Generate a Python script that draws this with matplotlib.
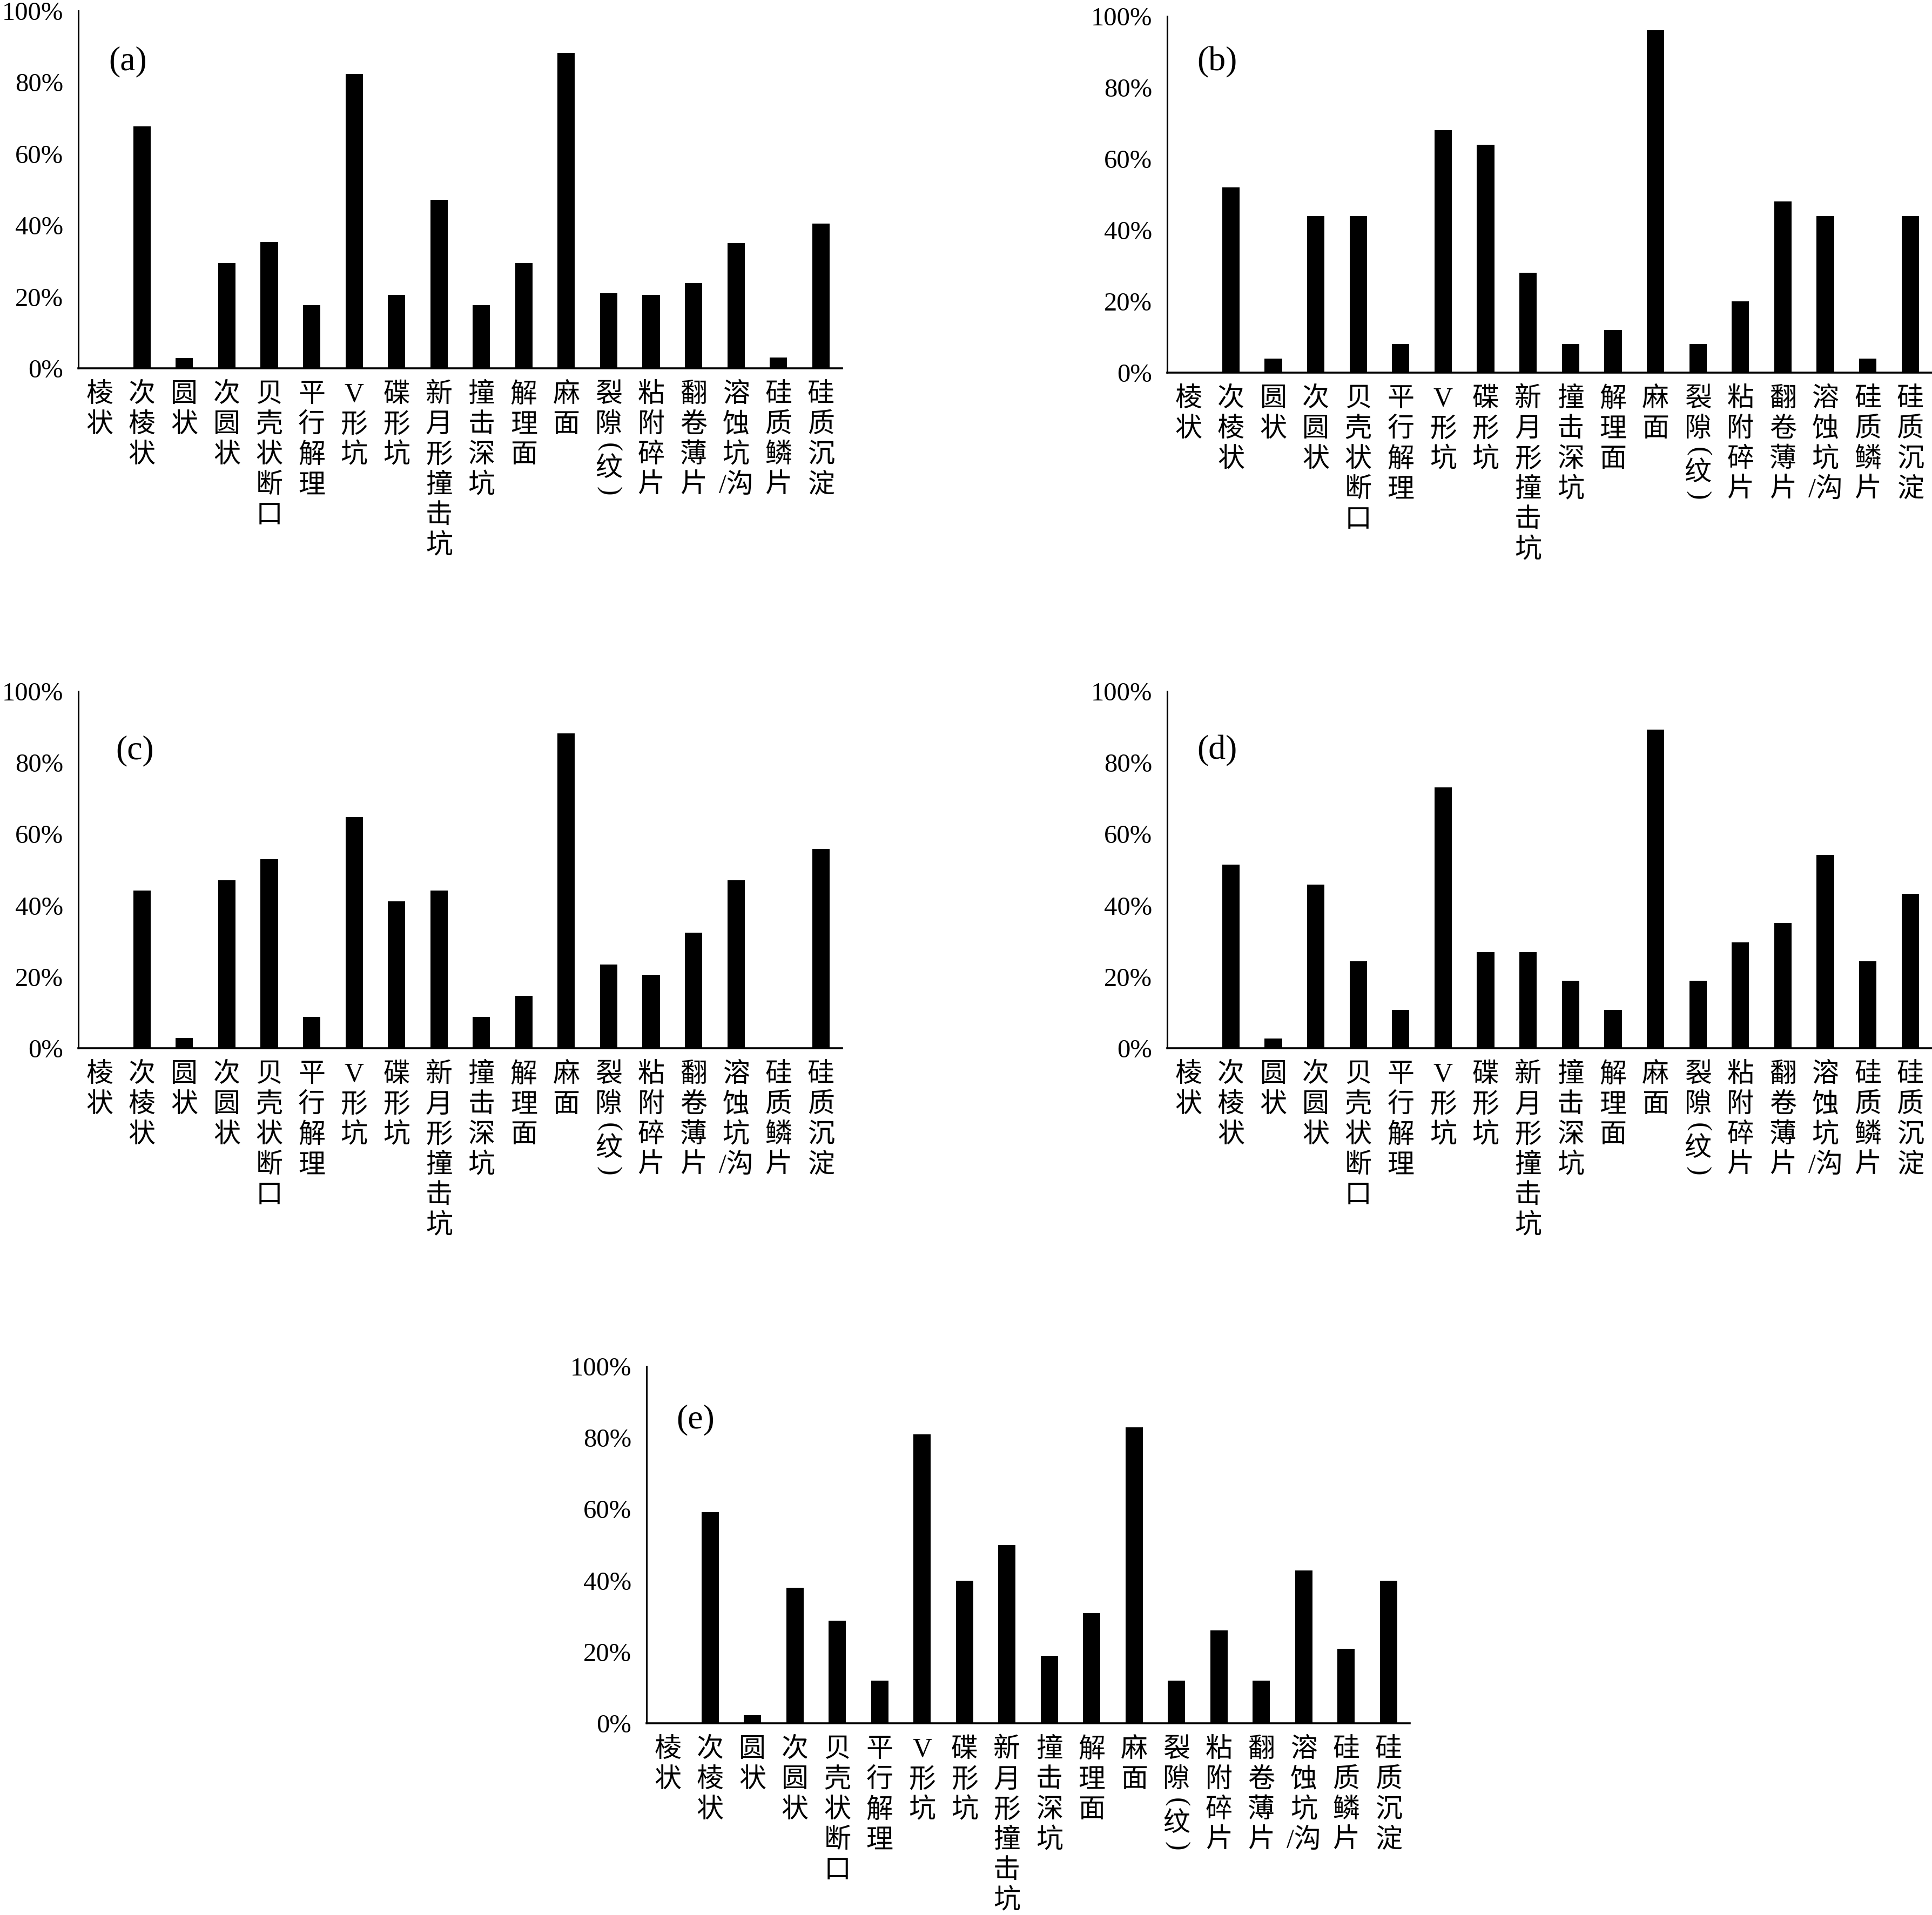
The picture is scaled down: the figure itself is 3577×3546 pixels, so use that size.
import matplotlib
matplotlib.use("Agg")
import matplotlib.pyplot as plt
from matplotlib.ticker import FuncFormatter, FixedLocator

# ---------------- data ----------------
categories = ["棱状", "次棱状", "圆状", "次圆状", "贝壳状断口", "平行解理", "V形坑", "碟形坑",
              "新月形撞击坑", "撞击深坑", "解理面", "麻面", "裂隙(纹)", "粘附碎片",
              "翻卷薄片", "溶蚀坑/沟", "硅质鳞片", "硅质沉淀"]
panel_labels = ["(a)", "(b)", "(c)", "(d)", "(e)"]
yticks = [0, 20, 40, 60, 80, 100]

values_a = [0, 67.6, 2.9, 29.4, 35.3, 17.6, 82.4, 20.6, 47.1, 17.6, 29.4, 88.2, 21.0, 20.6, 23.8, 35.1, 3.0, 40.5]
values_b = [0, 52.0, 4.0, 44.0, 44.0, 8.0, 68.0, 64.0, 28.0, 8.0, 12.0, 96.0, 8.0, 20.0, 48.0, 44.0, 4.0, 44.0]
values_c = [0, 44.1, 2.9, 47.1, 52.9, 8.8, 64.7, 41.2, 44.1, 8.8, 14.7, 88.2, 23.5, 20.6, 32.4, 47.1, 0, 55.9]
values_d = [0, 51.4, 2.7, 45.9, 24.3, 10.8, 73.0, 27.0, 27.0, 18.9, 10.8, 89.2, 18.9, 29.7, 35.1, 54.1, 24.3, 43.2]
values_e = [0, 59.2, 2.2, 38.0, 28.8, 11.9, 81.0, 40.0, 50.0, 18.9, 30.9, 82.9, 11.9, 26.0, 11.9, 42.8, 20.9, 40.0]
all_values = [values_a, values_b, values_c, values_d, values_e]

# ---------------- layout (pixels in a 3577x3546 canvas) ----------------
W, H = 3577, 3546
boxes = [  # left, right, top, bottom
    (145, 1559, 20, 682),
    (2161, 3576, 30, 690),
    (145, 1559, 1280, 1941),
    (2161, 3576, 1280, 1941),
    (1197, 2610, 2530, 3191),
]
label_pos = [(0.065, 0.858), (0.065, 0.870), (0.074, 0.833), (0.065, 0.833), (0.064, 0.849)]

SERIF = "Liberation Serif"
MIXED = [SERIF, "Noto Sans CJK SC"]
CJK_SIZE = 36
PX = 0.72  # points per pixel at dpi 100
FIRST_OFF = 50 * PX
STEP = 56 * PX


def tokens(label):
    out = []
    i = 0
    while i < len(label):
        ch = label[i]
        if ch == "/" and i + 1 < len(label):
            out.append((ch + label[i + 1], 1.0, 0))
            i += 2
            continue
        if ch in "()":
            out.append((ch, 0.45, -90))
            i += 1
            continue
        out.append((ch, 1.0, 0))
        i += 1
    return out


fig = plt.figure(figsize=(W / 100, H / 100), dpi=100)
fig.patch.set_facecolor("white")

for k, (vals, (l, r, t, b)) in enumerate(zip(all_values, boxes)):
    ax = fig.add_axes([l / W, 1 - b / H, (r - l) / W, (b - t) / H])
    x = list(range(len(categories)))
    ax.bar(x, vals, width=0.41, color="black", linewidth=0, zorder=2)
    ax.set_xlim(-0.5, len(categories) - 0.5)
    ax.set_ylim(0, 100)
    for s in ("top", "right"):
        ax.spines[s].set_visible(False)
    ax.spines["left"].set_linewidth(2.2)
    ax.spines["bottom"].set_linewidth(2.6)
    ax.spines["bottom"].set_zorder(3)
    ax.set_xticks([])
    ax.yaxis.set_major_locator(FixedLocator(yticks))
    ax.yaxis.set_major_formatter(FuncFormatter(lambda v, p: f"{v:.0f}%"))
    ax.tick_params(axis="y", length=0, pad=20, labelsize=35)
    for lab in ax.get_yticklabels():
        lab.set_fontfamily(SERIF)

    # vertical category labels
    for i, lab in enumerate(categories):
        cursor = 0.0
        for tok, h, rot in tokens(lab):
            center = FIRST_OFF + (cursor + h / 2 - 0.5) * STEP
            ax.annotate(tok, xy=(i, 0), xycoords=ax.get_xaxis_transform(),
                        xytext=(0, -center), textcoords="offset points",
                        ha="center", va="center", rotation=rot,
                        fontsize=CJK_SIZE, family=MIXED, annotation_clip=False)
            cursor += h

    lx, ly = label_pos[k]
    ax.text(lx, ly, panel_labels[k], transform=ax.transAxes, fontsize=46,
            family=SERIF, ha="center", va="center")

fig.savefig("out.png", dpi=100, facecolor="white")
